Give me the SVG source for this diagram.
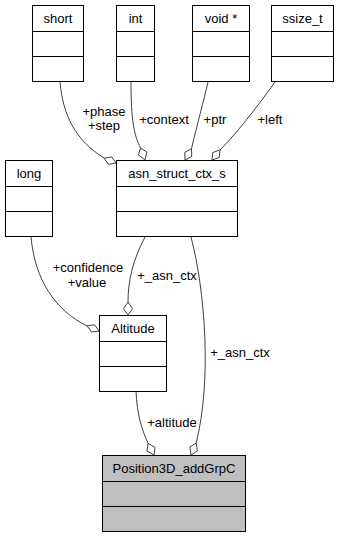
<svg xmlns="http://www.w3.org/2000/svg" width="339" height="537" viewBox="0 0 339 537">
<style>
  .box { fill: #ffffff; stroke: #000000; stroke-width: 1; }
  .hl { fill: #bfbfbf; }
  .sep { stroke: #000000; stroke-width: 1; }
  .t { font-family: "Liberation Sans", Arial, sans-serif; font-size: 13px; fill: #000000; text-anchor: middle; }
  .e { fill: none; stroke: #404040; stroke-width: 1; }
  .d { fill: #ffffff; stroke: #404040; stroke-width: 1; }
</style>
<rect x="0" y="0" width="339" height="537" fill="#ffffff"/>

<g id="connectors">
  <!-- short -> asn_struct_ctx_s -->
  <path class="e" d="M60,82 C63,115 75,140 104,158"/>
  <polygon class="d" points="116,163 111.5,156.9 104,158.2 108.5,164.3"/>
  <text class="t" x="104" y="116">+phase</text>
  <text class="t" x="104" y="130">+step</text>
  <!-- int -> asn_struct_ctx_s -->
  <path class="e" d="M131,82 C131,120 134,135 140.5,148"/>
  <polygon class="d" points="145,160 146.9,152 140.5,148 138.5,155"/>
  <text class="t" x="164" y="124">+context</text>
  <!-- void * -> asn_struct_ctx_s -->
  <path class="e" d="M208,82 C204,100 197,125 191.5,148.7"/>
  <polygon class="d" points="185,160 191.7,156.5 191.5,148.7 184.8,152.3"/>
  <text class="t" x="215" y="124">+ptr</text>
  <!-- ssize_t -> asn_struct_ctx_s -->
  <path class="e" d="M275,82 C255,110 235,135 220,150"/>
  <polygon class="d" points="212,160 219.2,157.5 220,150 212.8,152.5"/>
  <text class="t" x="270" y="124">+left</text>
  <!-- long -> Altitude -->
  <path class="e" d="M31,237 C35,280 55,310 87,326"/>
  <polygon class="d" points="99,331 94.6,324.8 87.1,325.8 91.5,332"/>
  <text class="t" x="88" y="272">+confidence</text>
  <text class="t" x="87" y="287">+value</text>
  <!-- asn_struct_ctx_s -> Altitude -->
  <path class="e" d="M145,237 C133,260 128,280 128,302"/>
  <polygon class="d" points="128,315 132.5,308.5 128,302 123.5,308.5"/>
  <text class="t" x="167" y="280">+_asn_ctx</text>
  <!-- asn_struct_ctx_s -> Position3D_addGrpC -->
  <path class="e" d="M191,237 C205,290 212,380 196.2,443"/>
  <polygon class="d" points="191,455 197.3,451.1 196.2,443 189.9,446.9"/>
  <text class="t" x="240" y="357">+_asn_ctx</text>
  <!-- Altitude -> Position3D_addGrpC -->
  <path class="e" d="M136,391 C137,415 142,430 148.1,443.4"/>
  <polygon class="d" points="154,455 155.1,447.4 148.1,443.4 147,451"/>
  <text class="t" x="172" y="427">+altitude</text>
</g>

<g id="node_short">
  <rect class="box" x="32.5" y="5.5" width="51" height="76"/>
  <line class="sep" x1="32.5" y1="31.5" x2="83.5" y2="31.5"/>
  <line class="sep" x1="32.5" y1="56.5" x2="83.5" y2="56.5"/>
  <text class="t" x="58" y="22.5">short</text>
</g>
<g id="node_int">
  <rect class="box" x="116.5" y="5.5" width="38" height="76"/>
  <line class="sep" x1="116.5" y1="31.5" x2="154.5" y2="31.5"/>
  <line class="sep" x1="116.5" y1="56.5" x2="154.5" y2="56.5"/>
  <text class="t" x="135.5" y="22.5">int</text>
</g>
<g id="node_void_ptr">
  <rect class="box" x="192.5" y="5.5" width="57" height="76"/>
  <line class="sep" x1="192.5" y1="31.5" x2="249.5" y2="31.5"/>
  <line class="sep" x1="192.5" y1="56.5" x2="249.5" y2="56.5"/>
  <text class="t" x="221" y="22.5">void *</text>
</g>
<g id="node_ssize_t">
  <rect class="box" x="271.5" y="5.5" width="62" height="76"/>
  <line class="sep" x1="271.5" y1="31.5" x2="333.5" y2="31.5"/>
  <line class="sep" x1="271.5" y1="56.5" x2="333.5" y2="56.5"/>
  <text class="t" x="302.5" y="22.5">ssize_t</text>
</g>
<g id="node_long">
  <rect class="box" x="5.5" y="160.5" width="47" height="76"/>
  <line class="sep" x1="5.5" y1="186.5" x2="52.5" y2="186.5"/>
  <line class="sep" x1="5.5" y1="211.5" x2="52.5" y2="211.5"/>
  <text class="t" x="29" y="177.5">long</text>
</g>
<g id="node_asn_struct_ctx_s">
  <rect class="box" x="116.5" y="160.5" width="121" height="76"/>
  <line class="sep" x1="116.5" y1="186.5" x2="237.5" y2="186.5"/>
  <line class="sep" x1="116.5" y1="211.5" x2="237.5" y2="211.5"/>
  <text class="t" x="177" y="177.5">asn_struct_ctx_s</text>
</g>
<g id="node_Altitude">
  <rect class="box" x="99.5" y="315.5" width="67" height="76"/>
  <line class="sep" x1="99.5" y1="341.5" x2="166.5" y2="341.5"/>
  <line class="sep" x1="99.5" y1="366.5" x2="166.5" y2="366.5"/>
  <text class="t" x="133" y="332.5">Altitude</text>
</g>
<g id="node_Position3D_addGrpC">
  <rect class="box hl" x="102.5" y="455.5" width="143" height="76"/>
  <line class="sep" x1="102.5" y1="481.5" x2="245.5" y2="481.5"/>
  <line class="sep" x1="102.5" y1="506.5" x2="245.5" y2="506.5"/>
  <text class="t" x="174" y="472.5">Position3D_addGrpC</text>
</g>
</svg>
